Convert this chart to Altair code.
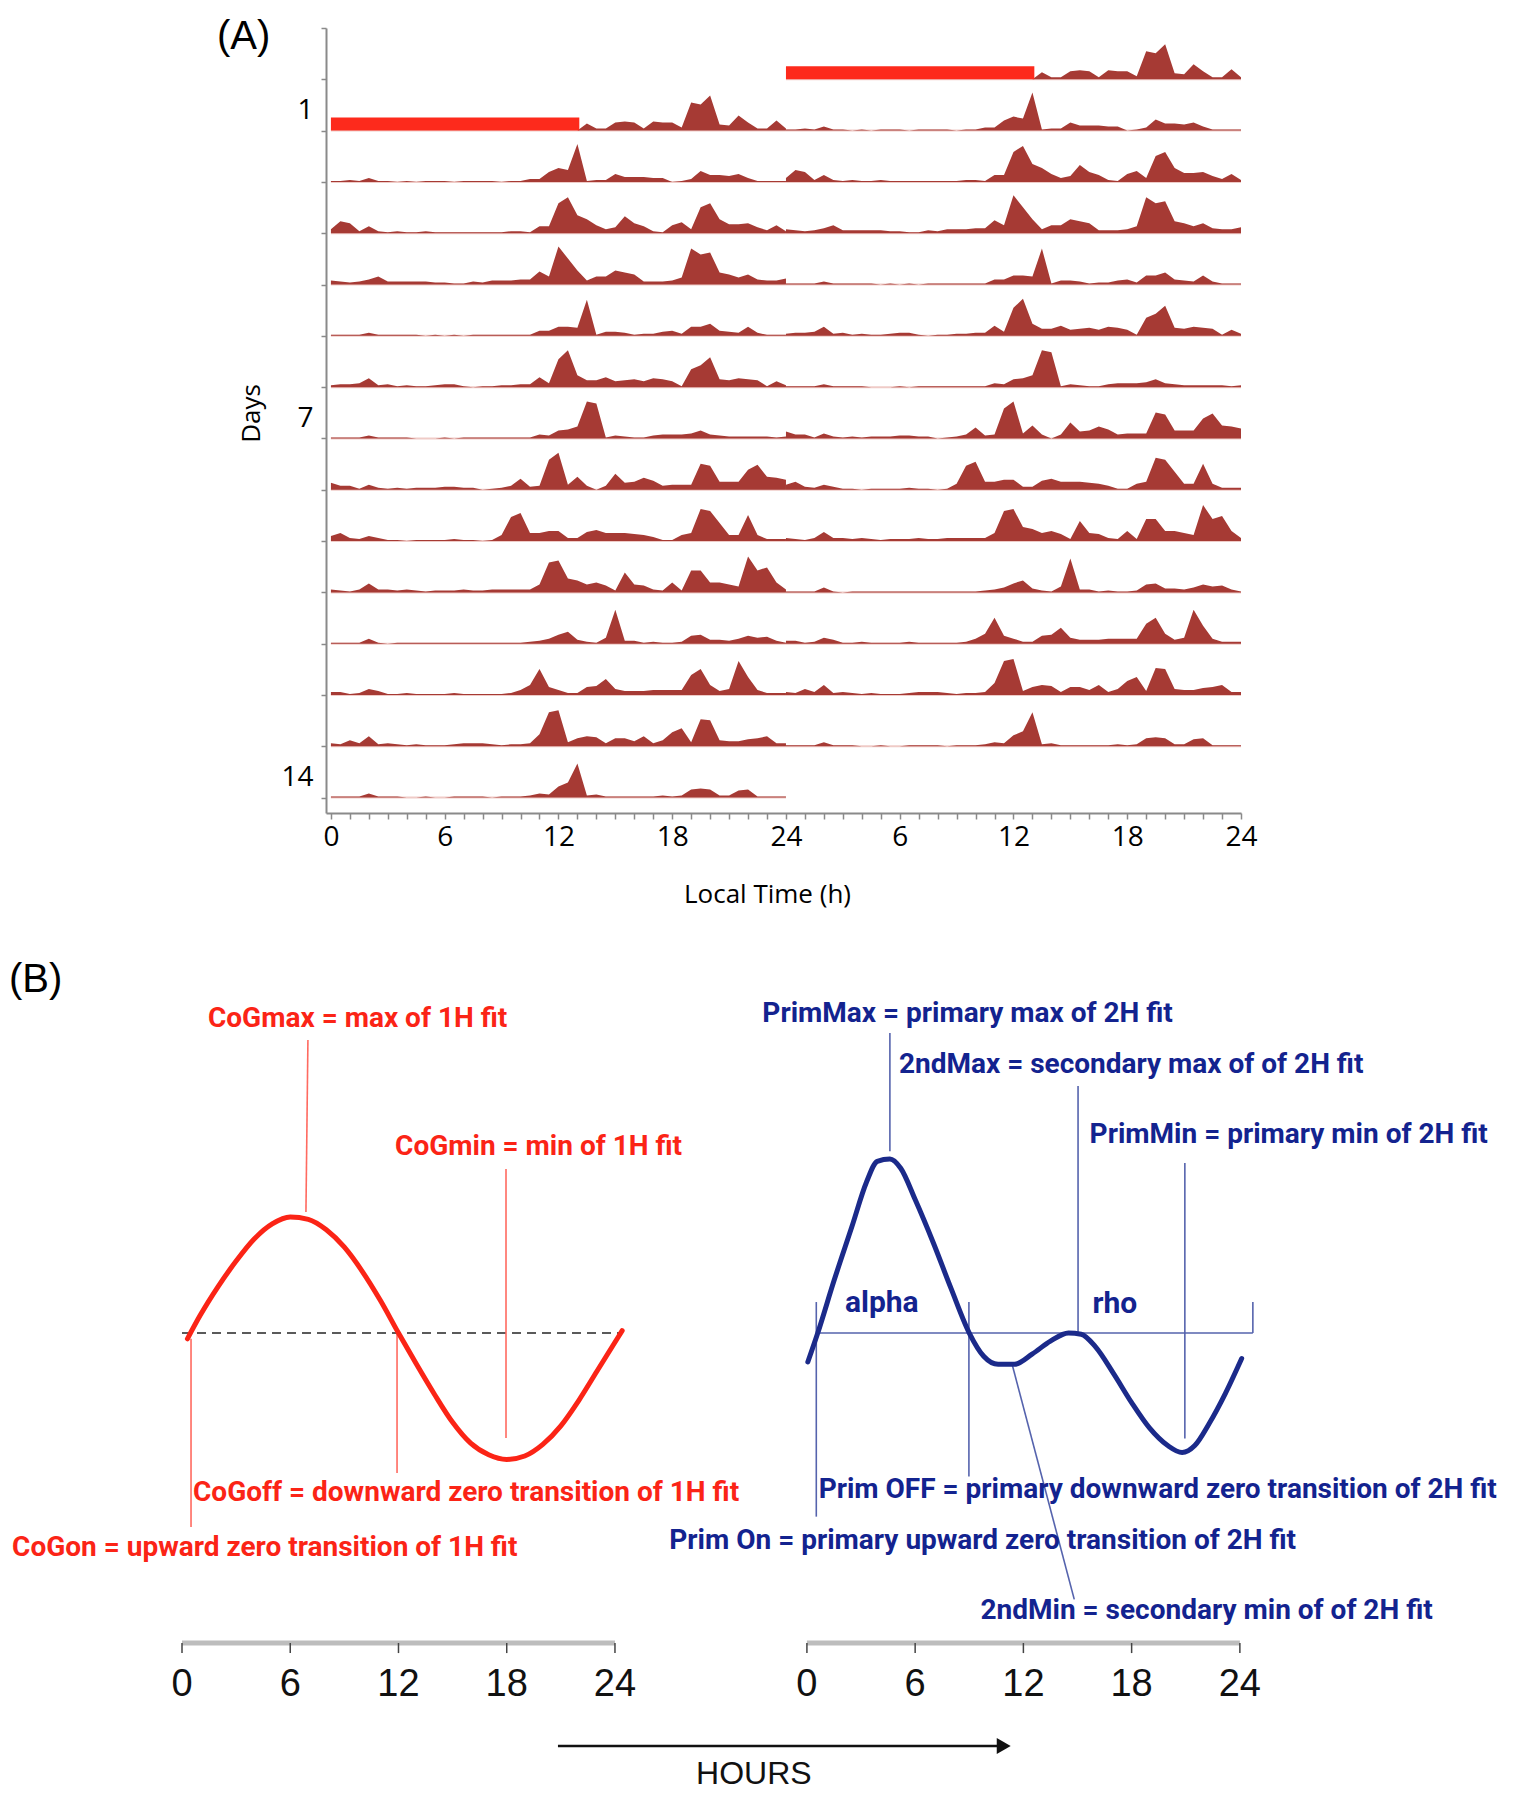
import altair as alt
import pandas as pd

# ======================= PANEL A : double-plotted actogram =======================
HALF_HOURS = [i / 2 for i in range(49)]          # 0, 0.5, ... 24 h
N_DAYS = 14
DAY_LABELS = [1, 7, 14]

# activity per half hour (in pixel-height units)
DAY_ACTIVITY = {
    1: [0, 0, 0, 0, 0, 0, 0, 0, 0, 0,
        0, 0, 0, 0, 0, 0, 0, 0, 0, 0,
        0, 0, 0, 0, 0, 0, 0, 7, 2, 2,
        8, 9, 8, 2, 9, 8, 8, 3, 28, 26,
        35, 6, 5, 15, 8, 2, 2, 10, 2],
    2: [1, 1, 2, 1, 4, 1, 1, 0, 1, 0,
        1, 1, 1, 0, 1, 1, 1, 1, 0, 1,
        1, 3, 3, 10, 14, 12, 38, 1, 2, 2,
        8, 5, 5, 5, 4, 4, 0, 1, 3, 11,
        7, 7, 6, 8, 4, 1, 1, 1, 1],
    3: [4, 12, 10, 2, 7, 2, 1, 2, 1, 1,
        2, 1, 1, 1, 1, 1, 1, 1, 1, 2,
        2, 1, 7, 7, 30, 36, 18, 14, 8, 4,
        6, 17, 10, 7, 2, 1, 8, 11, 4, 26,
        30, 14, 9, 9, 10, 6, 3, 8, 2],
    4: [4, 3, 2, 3, 5, 8, 3, 3, 3, 3,
        3, 2, 2, 1, 1, 3, 2, 4, 4, 4,
        5, 5, 13, 8, 38, 26, 14, 4, 8, 8,
        14, 12, 10, 3, 3, 3, 4, 7, 36, 30,
        32, 12, 10, 7, 10, 5, 4, 4, 6],
    5: [1, 1, 1, 1, 3, 1, 1, 1, 1, 1,
        0, 1, 0, 1, 0, 1, 1, 1, 1, 1,
        1, 1, 5, 5, 9, 9, 8, 36, 1, 4,
        4, 3, 1, 2, 2, 4, 5, 2, 9, 9,
        12, 5, 4, 3, 9, 3, 1, 1, 1],
    6: [2, 3, 3, 4, 9, 2, 3, 1, 2, 1,
        1, 2, 3, 3, 1, 0, 1, 1, 2, 2,
        3, 3, 10, 4, 28, 37, 12, 7, 7, 10,
        6, 7, 8, 6, 9, 8, 6, 1, 18, 22,
        30, 8, 7, 9, 8, 7, 1, 6, 2],
    7: [1, 1, 1, 1, 3, 1, 1, 1, 1, 0,
        0, 0, 1, 0, 1, 1, 1, 1, 1, 1,
        1, 1, 4, 3, 8, 9, 12, 37, 35, 1,
        3, 2, 1, 1, 3, 4, 4, 4, 5, 8,
        4, 3, 2, 2, 2, 2, 2, 1, 2],
    8: [7, 4, 4, 1, 5, 2, 1, 2, 1, 2,
        2, 2, 3, 3, 2, 2, 0, 1, 2, 4,
        11, 3, 4, 30, 37, 5, 13, 4, 0, 4,
        16, 7, 8, 12, 9, 4, 5, 5, 5, 26,
        24, 8, 8, 8, 20, 25, 13, 12, 10],
    9: [5, 8, 3, 2, 5, 3, 1, 1, 0, 1,
        1, 1, 1, 2, 1, 1, 0, 1, 6, 24,
        28, 8, 8, 10, 10, 3, 3, 9, 11, 8,
        8, 8, 7, 6, 4, 1, 1, 6, 8, 32,
        30, 18, 6, 6, 26, 6, 2, 2, 2],
    10: [3, 2, 1, 3, 9, 3, 3, 2, 3, 2,
         1, 2, 2, 2, 3, 2, 2, 3, 3, 3,
         3, 3, 8, 30, 32, 14, 12, 8, 10, 7,
         2, 20, 8, 7, 3, 2, 10, 2, 22, 22,
         10, 10, 8, 6, 36, 22, 25, 10, 3],
    11: [1, 1, 1, 1, 5, 1, 0, 1, 1, 1,
         1, 1, 1, 1, 1, 1, 1, 1, 1, 1,
         1, 2, 3, 5, 9, 12, 4, 2, 1, 6,
         34, 3, 3, 1, 2, 1, 1, 2, 8, 9,
         4, 4, 3, 5, 8, 6, 7, 3, 1],
    12: [3, 3, 1, 2, 6, 4, 1, 1, 2, 1,
         1, 1, 1, 2, 1, 1, 1, 1, 1, 2,
         5, 10, 26, 8, 5, 2, 2, 8, 9, 16,
         6, 4, 4, 4, 5, 5, 5, 5, 20, 26,
         10, 4, 6, 34, 18, 5, 2, 2, 2],
    13: [3, 2, 6, 3, 10, 2, 3, 2, 1, 2,
         1, 1, 1, 2, 3, 3, 3, 2, 1, 2,
         2, 3, 12, 34, 36, 4, 8, 10, 9, 3,
         8, 8, 5, 10, 3, 6, 14, 18, 4, 27,
         26, 6, 5, 5, 7, 8, 10, 3, 3],
    14: [1, 1, 1, 1, 4, 1, 1, 1, 0, 0,
         1, 0, 0, 1, 1, 1, 1, 0, 1, 1,
         1, 2, 4, 3, 11, 15, 34, 2, 3, 1,
         1, 1, 1, 1, 1, 2, 1, 2, 8, 9,
         8, 2, 2, 7, 8, 1, 1, 1, 1],
}
LIGHT_DAY = 1
LIGHT_START, LIGHT_END = 0.0, 13.1      # hours covered by the red bar on day 1

ACT_COLOR = "#a63a34"
BAR_COLOR = "#fd2a1c"
BASE_COLOR = "#efcbc7"
AXIS_GRAY = "#8a8a8a"

A_ROW_PX = 785 / 15.3           # pixel height of one row
BAR_PX = 13

act_rows, base_rows = [], []
for r in range(0, N_DAYS + 1):
    for half, day, off in (("L", r, 0), ("R", r + 1, 24)):
        if 1 <= day <= N_DAYS:
            for t, v in zip(HALF_HOURS, DAY_ACTIVITY[day]):
                act_rows.append({"seg": f"{r}{half}", "x": t + off, "base": r,
                                 "top": r - v / A_ROW_PX})
            base_rows.append({"x": off, "x2": off + 24, "y": r})
act_df = pd.DataFrame(act_rows)
base_df = pd.DataFrame(base_rows)
bar_df = pd.DataFrame([
    {"x": LIGHT_START, "x2": LIGHT_END, "y": LIGHT_DAY - BAR_PX / A_ROW_PX, "y2": LIGHT_DAY},
    {"x": 24 + LIGHT_START, "x2": 24 + LIGHT_END, "y": LIGHT_DAY - 1 - BAR_PX / A_ROW_PX,
     "y2": LIGHT_DAY - 1},
])

xA = alt.Scale(domain=[-0.26, 48], nice=False, zero=False)
yA = alt.Scale(domain=[-1, 14.3], reverse=True, nice=False, zero=False)

x_axis_A = alt.Axis(
    values=list(range(0, 49)),
    labelExpr="datum.value % 6 == 0 ? (datum.value > 24 ? datum.value - 24 : datum.value) : ''",
    tickSize=6, tickColor=AXIS_GRAY, tickWidth=1.5, domainColor=AXIS_GRAY, domainWidth=2,
    labelFontSize=28, labelFont="Open Sans", labelColor="black", labelPadding=4,
    labelOverlap=False, labelFlush=False, grid=False,
    title="Local Time (h)", titleFont="Open Sans", titleFontSize=26, titleFontWeight="normal",
    titleColor="black", titleX=441, titleY=81, titleBaseline="middle", titleAlign="center")
y_axis_A = alt.Axis(
    values=list(range(-1, 15)),
    labelExpr="indexof([1, 7, 14], datum.value) >= 0 ? datum.value : ''",
    labelFontSize={"condition": {"test": "datum.value < 1", "value": 0}, "value": 28},
    tickSize=5, tickColor=AXIS_GRAY, tickWidth=1.5, domainColor=AXIS_GRAY, domainWidth=2,
    labelFont="Open Sans", labelColor="black", labelPadding=8,
    labelOffset=-20, labelOverlap=False, labelFlush=False, grid=False,
    title="Days", titleFont="Open Sans", titleFontSize=26, titleFontWeight="normal",
    titleColor="black", titleX=-75, titleY=385, titleAngle=270,
    titleBaseline="middle", titleAlign="center")


def XA(f):
    return alt.X(f"{f}:Q", scale=xA, axis=x_axis_A)


def YA(f):
    return alt.Y(f"{f}:Q", scale=yA, axis=y_axis_A)


baseA = alt.Chart(base_df).mark_rule(color=BASE_COLOR, strokeWidth=2).encode(
    x=XA("x"), x2="x2:Q", y=YA("y"))
areaA = alt.Chart(act_df).mark_area(color=ACT_COLOR, interpolate="linear").encode(
    x=XA("x"), y=YA("top"), y2="base:Q", detail="seg:N")
barA = alt.Chart(bar_df).mark_rect(color=BAR_COLOR).encode(
    x=XA("x"), x2="x2:Q", y=YA("y"), y2="y2:Q")
labelA = alt.Chart(pd.DataFrame({"x": [-6.01], "y": [-0.825], "label": ["(A)"]})).mark_text(
    align="left", baseline="middle", fontSize=40, font="Liberation Sans", color="black").encode(
    x=XA("x"), y=YA("y"), text="label:N")
anchorA = alt.Chart(pd.DataFrame({"x": [-16.98], "y": [-1.331]})).mark_point(
    opacity=0, size=1).encode(x=XA("x"), y=YA("y"))

panelA = alt.layer(baseA, areaA, barA, labelA, anchorA).properties(width=915, height=785)

# ======================= PANEL B : 1H and 2H fit diagrams =======================
R_OFFSET = 34.64                 # right diagram's 0 h on the shared hour scale
RED = "#fb2416"
RED_LINE = "#ff6a60"
BLUE_TEXT = "#13238f"
BLUE_CURVE = "#1b2a8a"
BLUE_LINE = "#5563ad"
B_FONT = "Roboto"
B_SIZE = 28

RED_T = [0.3, 1, 2, 3, 4, 5, 6, 7, 8, 9, 10, 11, 12, 13, 14, 15, 16, 17, 18, 19, 20,
         21, 22, 23, 24, 24.4]
RED_V = [-0.05, 0.15, 0.40, 0.62, 0.81, 0.94, 1.0, 0.98, 0.89, 0.74, 0.53, 0.28, 0.0,
         -0.27, -0.53, -0.77, -0.95, -1.05, -1.09, -1.06, -0.96, -0.80, -0.58, -0.33,
         -0.08, 0.02]
BLUE_T = [0.05, 0.6, 1.5, 2.5, 3.3, 3.9, 4.6, 5.2, 6.0, 7.0, 8.0, 9.0, 9.8, 10.6, 11.5,
          12.5, 13.5, 14.5, 15.2, 16.0, 17.0, 18.0, 19.0, 20.0, 20.8, 21.5, 22.3, 23.2, 24.1]
BLUE_V = [-0.25, 0.0, 0.45, 0.92, 1.3, 1.48, 1.5, 1.42, 1.15, 0.78, 0.38, 0.0, -0.2, -0.27,
          -0.27, -0.18, -0.07, 0.0, -0.01, -0.12, -0.35, -0.6, -0.82, -0.97, -1.03, -0.97,
          -0.78, -0.52, -0.22]

RED_LABELS = ["CoGmax = max of 1H fit", "CoGmin = min of 1H fit",
              "CoGoff = downward zero transition of 1H fit",
              "CoGon = upward zero transition of 1H fit"]
RED_LABEL_T = [1.44, 11.81, 0.61, -9.42]
RED_LABEL_V = [2.704, 1.605, -1.375, -1.85]
RED_LINES = [(6.98, 2.526, 6.87, 1.043), (17.96, 1.414, 17.96, -0.905),
             (11.92, 0.0, 11.92, -1.207), (0.5, -0.05, 0.5, -1.672)]
ZERO_LINE = (0.0, 24.39)

BLUE_LABELS = ["PrimMax = primary max of 2H fit", "2ndMax = secondary max of of 2H fit",
               "PrimMin = primary min of 2H fit",
               "Prim OFF = primary downward zero transition of 2H fit",
               "Prim On = primary upward zero transition of 2H fit",
               "2ndMin = secondary min of of 2H fit"]
BLUE_LABEL_T = [-2.47, 5.10, 15.67, 0.65, -7.63, 9.62]
BLUE_LABEL_V = [2.753, 2.308, 1.704, -1.355, -1.79, -2.395]
PHASE_LABELS = ["alpha", "rho"]
PHASE_T = [4.15, 17.07]
PHASE_V = [0.259, 0.25]
BLUE_LINES = [(4.60, 2.586, 4.60, 1.566), (15.03, 2.129, 15.03, 0.0),
              (20.95, 1.466, 20.95, -0.909), (0.52, 0.267, 0.52, -1.583),
              (8.98, 0.267, 8.98, -1.236), (24.72, 0.267, 24.72, 0.0),
              (0.52, 0.0, 24.72, 0.0), (11.37, -0.267, 14.82, -2.296)]

B_TICKS = [0, 6, 12, 18, 24]
B_AXIS_V, B_TICK_END_V, B_LABEL_V = -2.672, -2.759, -3.034
ARROW = (20.84, 45.35, -3.56)
ARROW_HEAD_T = 45.55
HOURS_POS = (31.7, -3.80)
PANEL_B_POS = (-9.59, 3.043)

xB = alt.Scale(domain=[7.982, 73.115], nice=False, zero=False)
yB = alt.Scale(domain=[-3.879, 3.362], nice=False, zero=False)


def XB(f):
    return alt.X(f"{f}:Q", scale=xB, axis=None)


def YB(f):
    return alt.Y(f"{f}:Q", scale=yB, axis=None)


def seg_df(lines, off=0.0):
    return pd.DataFrame([{"t": a + off, "v": b, "t2": c + off, "v2": d} for a, b, c, d in lines])


def segs(df, **kw):
    return alt.Chart(df).mark_rule(**kw).encode(x=XB("t"), y=YB("v"), x2="t2:Q", y2="v2:Q")


red_curve = alt.Chart(pd.DataFrame({"t": RED_T, "v": RED_V})).mark_line(
    color=RED, strokeWidth=5, interpolate="monotone", strokeCap="round").encode(
    x=XB("t"), y=YB("v"))
blue_curve = alt.Chart(pd.DataFrame({"t": [t + R_OFFSET for t in BLUE_T], "v": BLUE_V})).mark_line(
    color=BLUE_CURVE, strokeWidth=5, interpolate="monotone", strokeCap="round").encode(
    x=XB("t"), y=YB("v"))

zero_dash = segs(seg_df([(ZERO_LINE[0], 0.0, ZERO_LINE[1], 0.0)]),
                 color="#5a5a5a", strokeWidth=2, strokeDash=[9, 6])
red_lines = segs(seg_df(RED_LINES), color=RED_LINE, strokeWidth=1.6)
blue_lines = segs(seg_df(BLUE_LINES, R_OFFSET), color=BLUE_LINE, strokeWidth=1.6)

red_text = alt.Chart(pd.DataFrame({"t": RED_LABEL_T, "v": RED_LABEL_V, "label": RED_LABELS})).mark_text(
    align="left", baseline="middle", font=B_FONT, fontWeight="bold", fontSize=B_SIZE, color=RED).encode(
    x=XB("t"), y=YB("v"), text="label:N")
blue_text = alt.Chart(pd.DataFrame({"t": [t + R_OFFSET for t in BLUE_LABEL_T], "v": BLUE_LABEL_V,
                                    "label": BLUE_LABELS})).mark_text(
    align="left", baseline="middle", font=B_FONT, fontWeight="bold", fontSize=B_SIZE,
    color=BLUE_TEXT).encode(x=XB("t"), y=YB("v"), text="label:N")
phase_text = alt.Chart(pd.DataFrame({"t": [t + R_OFFSET for t in PHASE_T], "v": PHASE_V,
                                     "label": PHASE_LABELS})).mark_text(
    align="center", baseline="middle", font=B_FONT, fontWeight="bold", fontSize=30,
    color=BLUE_TEXT).encode(x=XB("t"), y=YB("v"), text="label:N")

axis_bars = segs(seg_df([(0, B_AXIS_V, 24, B_AXIS_V), (R_OFFSET, B_AXIS_V, R_OFFSET + 24, B_AXIS_V)]),
                 color="#bdbdbd", strokeWidth=5)
tick_rows = [(t + o, B_AXIS_V, t + o, B_TICK_END_V) for o in (0, R_OFFSET) for t in B_TICKS]
axis_ticks = segs(seg_df(tick_rows), color="#444444", strokeWidth=1.5)
tick_labels = alt.Chart(pd.DataFrame({
    "t": [t + o for o in (0, R_OFFSET) for t in B_TICKS],
    "v": [B_LABEL_V] * (2 * len(B_TICKS)),
    "label": [str(t) for o in (0, R_OFFSET) for t in B_TICKS]})).mark_text(
    align="center", baseline="middle", font="Liberation Sans", fontSize=38, color="#111111").encode(
    x=XB("t"), y=YB("v"), text="label:N")

arrow_line = segs(seg_df([(ARROW[0], ARROW[2], ARROW[1], ARROW[2])]), color="#111111", strokeWidth=2.5)
arrow_head = alt.Chart(pd.DataFrame({"t": [ARROW_HEAD_T], "v": [ARROW[2]]})).mark_point(
    shape="triangle-right", filled=True, size=260, color="#111111", opacity=1).encode(
    x=XB("t"), y=YB("v"))
hours_text = alt.Chart(pd.DataFrame({"t": [HOURS_POS[0]], "v": [HOURS_POS[1]], "label": ["HOURS"]})).mark_text(
    align="center", baseline="middle", font="Liberation Sans", fontSize=32, color="#111111").encode(
    x=XB("t"), y=YB("v"), text="label:N")
panel_b_text = alt.Chart(pd.DataFrame({"t": [PANEL_B_POS[0]], "v": [PANEL_B_POS[1]], "label": ["(B)"]})).mark_text(
    align="left", baseline="middle", font="Liberation Sans", fontSize=40, color="black").encode(
    x=XB("t"), y=YB("v"), text="label:N")

panelB = alt.layer(
    zero_dash, red_lines, blue_lines, red_curve, blue_curve, red_text, blue_text, phase_text,
    axis_bars, axis_ticks, tick_labels, arrow_line, arrow_head, hours_text, panel_b_text,
).properties(width=1175, height=840)

chart = alt.vconcat(panelA, panelB, spacing=130, bounds="flush").properties(
    padding=0).configure_view(stroke=None)

chart.save("out.html", embed_options={"renderer": "svg", "actions": False})
